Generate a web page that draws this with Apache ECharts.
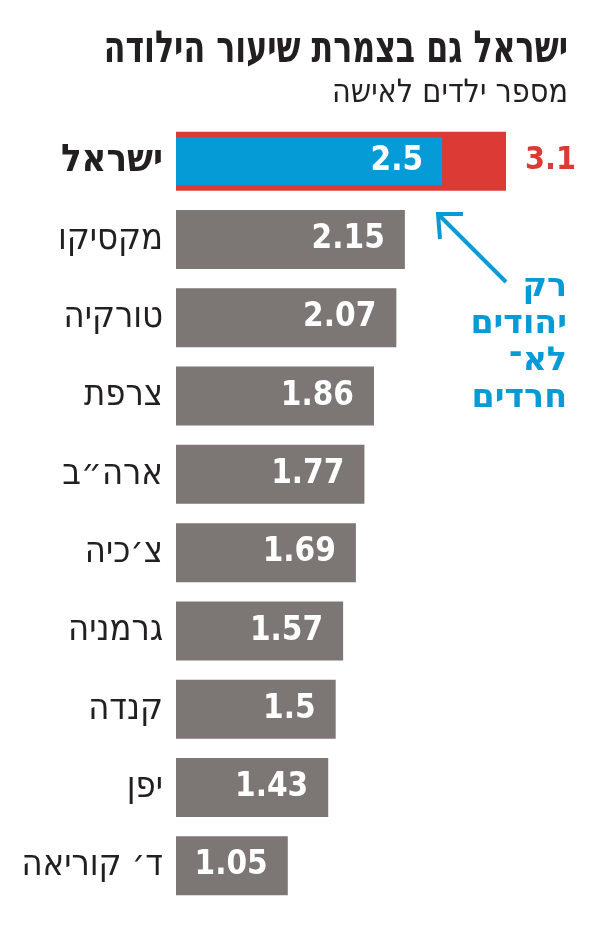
<!DOCTYPE html>
<html>
<head>
<meta charset="utf-8">
<script src="https://cdn.jsdelivr.net/npm/echarts@6/dist/echarts.min.js"></script>
<style>
  html, body { margin: 0; padding: 0; background: #fff; }
  #chart { width: 596px; height: 938px; }
</style>
</head>
<body>
<div id="chart"></div>
<script>
var countries = ['ישראל', 'מקסיקו', 'טורקיה', 'צרפת', 'ארה״ב', 'צ׳כיה', 'גרמניה', 'קנדה', 'יפן', 'ד׳ קוריאה'];
var totalRate = [3.1, 2.15, 2.07, 1.86, 1.77, 1.69, 1.57, 1.5, 1.43, 1.05];
var jewishNonHarediRate = [2.5, '-', '-', '-', '-', '-', '-', '-', '-', '-'];

var titleText = 'ישראל גם בצמרת שיעור הילודה';
var subtitleText = 'מספר ילדים לאישה';
var noteLines = ['רק', 'יהודים', 'לא־', 'חרדים'];

var RED = '#db3a35';
var BLUE = '#059bd6';
var GRAY = '#7c7674';
var INK = '#231f20';
var FONT = '"Liberation Sans Narrow", "DejaVu Sans Condensed", sans-serif';

var chart = echarts.init(document.getElementById('chart'));

var totalData = totalRate.map(function (v, i) {
  if (i === 0) {
    return {
      value: v,
      itemStyle: { color: RED },
      label: { position: 'right', distance: 19, color: RED, fontSize: 32 }
    };
  }
  return { value: v, itemStyle: { color: GRAY } };
});

var valueLabel = {
  show: true,
  position: 'insideRight',
  distance: 20,
  color: '#fff',
  fontFamily: FONT,
  fontSize: 33,
  fontWeight: 'bold'
};

var yAxisBase = {
  type: 'category',
  data: countries,
  inverse: true,
  axisLine: { show: false },
  axisTick: { show: false },
  splitLine: { show: false }
};

// free texts: title, subtitle and the blue note (squeezed a little to look condensed)
var graphics = [
  {
    type: 'text',
    x: 568, y: 29,
    scaleX: 0.8,
    style: { text: titleText, fill: INK, font: 'bold 44px ' + FONT, align: 'right', verticalAlign: 'top' }
  },
  {
    type: 'text',
    x: 568, y: 78,
    style: { text: subtitleText, fill: INK, font: '32px ' + FONT, align: 'right', verticalAlign: 'top' }
  }
];
noteLines.forEach(function (line, i) {
  graphics.push({
    type: 'text',
    x: 567, y: 271 + i * 37,
    scaleY: 0.9,
    style: { text: line, fill: BLUE, font: 'bold 37px ' + FONT, align: 'right', verticalAlign: 'top' }
  });
});
graphics.push(
  {
    type: 'polyline',
    shape: { points: [[506, 282], [438, 214]] },
    style: { stroke: BLUE, lineWidth: 4, fill: null }
  },
  {
    type: 'polyline',
    shape: { points: [[463, 214], [438, 214], [440, 239]] },
    style: { stroke: BLUE, lineWidth: 4, fill: null, lineJoin: 'miter' }
  }
);

chart.setOption({
  animation: false,
  backgroundColor: '#fff',
  grid: { left: 176, right: 90, top: 122, bottom: 33, containLabel: false },
  xAxis: {
    type: 'value',
    min: 0,
    max: 3.1,
    show: false
  },
  yAxis: [
    Object.assign({}, yAxisBase, {
      axisLabel: {
        margin: 13,
        fontFamily: FONT,
        fontSize: 36,
        color: INK,
        formatter: function (name) {
          return name === countries[0] ? '{b|' + name + '}' : name;
        },
        rich: {
          b: { fontFamily: FONT, fontSize: 38, fontWeight: 'bold', color: INK }
        }
      }
    }),
    Object.assign({}, yAxisBase, { show: false })
  ],
  series: [
    {
      name: 'total',
      type: 'bar',
      yAxisIndex: 0,
      barWidth: 59,
      data: totalData,
      label: valueLabel
    },
    {
      name: 'jewish',
      type: 'bar',
      yAxisIndex: 1,
      barWidth: 48,
      data: jewishNonHarediRate,
      itemStyle: { color: BLUE },
      label: Object.assign({}, valueLabel, { distance: 19 })
    }
  ],
  graphic: graphics
});
</script>
</body>
</html>
